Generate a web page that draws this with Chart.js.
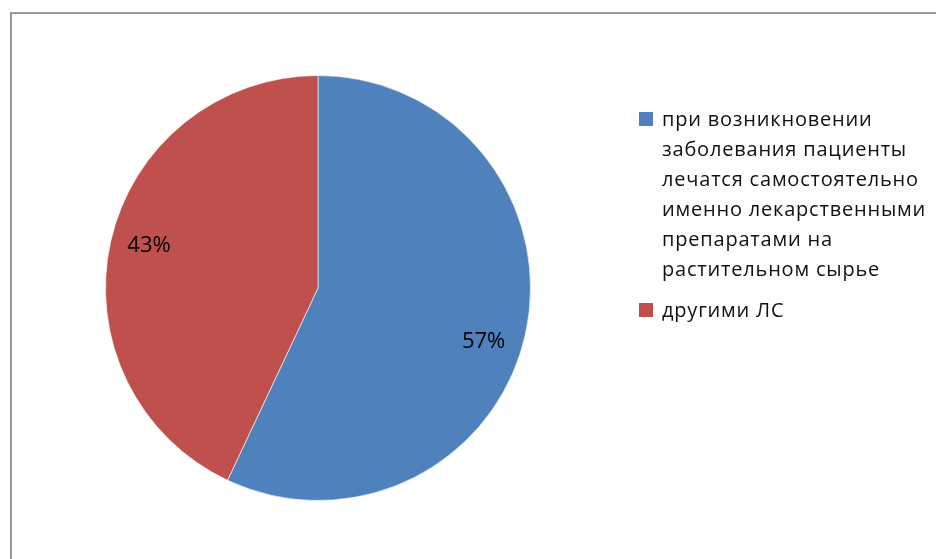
<!DOCTYPE html>
<html>
<head>
<meta charset="utf-8">
<script src="https://cdn.jsdelivr.net/npm/chart.js@4"></script>
<style>
  body { margin: 0; background: #fff; width: 936px; height: 559px; overflow: hidden; position: relative; }
  #frame { position: absolute; left: 10px; top: 12px; width: 1000px; height: 600px; border: 2px solid #9a9a9a; box-sizing: border-box; }
  #chart { position: absolute; left: 0; top: 0; }
  #legend { position: absolute; left: 639px; top: 104px; font-family: "Open Sans", sans-serif; font-size: 20px; letter-spacing: 0.8px; color: #111; }
  .item { position: relative; padding-left: 23px; line-height: 30px; margin-bottom: 11px; white-space: nowrap; }
  .box { position: absolute; left: 0; top: 8px; width: 14px; height: 14px; }
</style>
</head>
<body>
<div id="frame"></div>
<canvas id="chart" width="936" height="559"></canvas>
<div id="legend"></div>
<script>
// categories, one line per entry as shown in the legend
const categories = [
  ['при возникновении', 'заболевания пациенты', 'лечатся самостоятельно', 'именно лекарственными', 'препаратами на', 'растительном сырье'],
  ['другими ЛС'],
];
const shares = [57, 43];
const colors = ['#4f81bd', '#c0504d'];
// small angular nudge (degrees) so labels sit where Excel put them
const labelShift = [5.5, 1.5];

const percentLabels = {
  id: 'percentLabels',
  afterDatasetsDraw(chart) {
    const ctx = chart.ctx;
    const meta = chart.getDatasetMeta(0);
    ctx.save();
    ctx.font = '22px "Open Sans", sans-serif';
    ctx.fillStyle = '#000';
    ctx.textAlign = 'center';
    ctx.textBaseline = 'middle';
    meta.data.forEach((arc, i) => {
      const mid = (arc.startAngle + arc.endAngle) / 2 + labelShift[i] * Math.PI / 180;
      const r = arc.outerRadius * 0.82;
      ctx.fillText(shares[i] + '%', arc.x + Math.cos(mid) * r, arc.y + Math.sin(mid) * r);
    });
    ctx.restore();
  },
};

const chart = new Chart(document.getElementById('chart').getContext('2d'), {
  type: 'pie',
  data: {
    labels: categories,
    datasets: [{
      data: shares,
      backgroundColor: colors,
      borderColor: 'rgba(255,255,255,0.6)',
      borderWidth: 1,
    }],
  },
  options: {
    responsive: false,
    animation: false,
    layout: { padding: { left: 105, right: 405, top: 75, bottom: 58 } },
    plugins: {
      legend: { display: false },
      tooltip: { enabled: false },
    },
  },
  plugins: [percentLabels],
});

// legend built from the same arrays
const legend = document.getElementById('legend');
categories.forEach((lines, i) => {
  const item = document.createElement('div');
  item.className = 'item';
  const box = document.createElement('span');
  box.className = 'box';
  box.style.background = colors[i];
  item.appendChild(box);
  lines.forEach((line, j) => {
    if (j) item.appendChild(document.createElement('br'));
    item.appendChild(document.createTextNode(line));
  });
  legend.appendChild(item);
});
</script>
</body>
</html>
